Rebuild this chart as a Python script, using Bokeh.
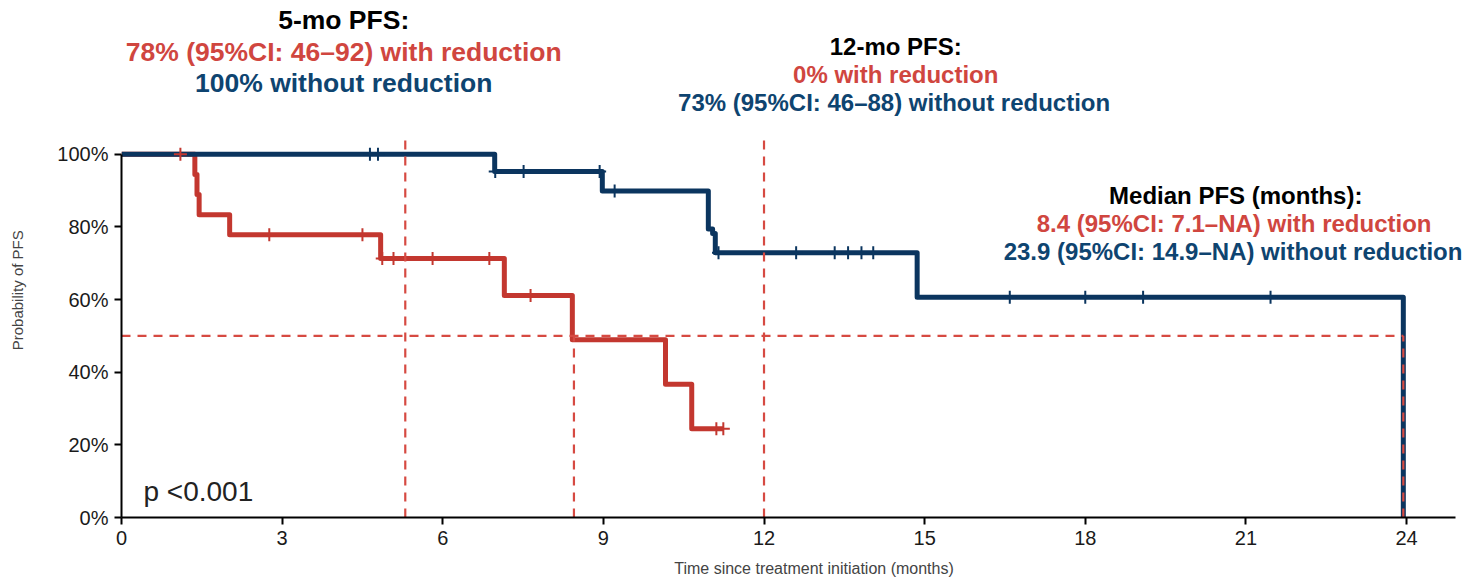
import math
from bokeh.plotting import figure
from bokeh.models import Label, FixedTicker, PrintfTickFormatter, Range1d
from bokeh.embed import file_html
from bokeh.resources import INLINE

# ---- data ----
red_times = [0, 1.37, 1.41, 1.45, 2.02, 4.84, 7.15, 8.42, 10.16, 10.65, 11.24]
red_surv = [100, 94.4, 88.9, 83.3, 77.8, 71.3, 61.1, 48.9, 36.7, 24.4, 24.4]
red_censor = [1.10, 2.76, 4.50, 4.87, 5.08, 5.81, 6.87, 7.64, 11.11, 11.24]

blue_times = [0, 6.97, 8.98, 10.96, 11.04, 11.09, 14.86, 23.94]
blue_surv = [100, 95.2, 89.9, 79.4, 78.2, 72.9, 60.6, 0]
blue_censor = [4.64, 4.79, 6.98, 7.51, 8.93, 9.21, 11.15, 12.60, 13.32, 13.57,
               13.82, 14.04, 16.59, 18.00, 19.08, 21.46]

landmark_5mo = 5.3
landmark_12mo = 12.0
median_red = 8.45
median_blue = 23.94
median_level = 50

x_ticks = [0, 3, 6, 9, 12, 15, 18, 21, 24]
y_ticks = [0, 20, 40, 60, 80, 100]

RED = "#c3372f"
RED_TXT = "#d0463f"
RED_DASH = "#d64a42"
BLUE = "#0b355f"
BLUE_TXT = "#0e4470"
FONT = "Liberation Sans"
NB = "\u00a0"


def surv_at(times, surv, t):
    s = surv[0]
    for ti, si in zip(times, surv):
        if ti <= t:
            s = si
    return s


p = figure(width=1466, height=579, x_range=Range1d(0, 25.12), y_range=Range1d(0, 142.3),
           output_backend="svg", toolbar_location=None,
           min_border_left=121, min_border_right=0, min_border_top=0, min_border_bottom=61)
p.outline_line_color = None
p.grid.visible = False
p.background_fill_color = "white"

# curves
p.step(red_times, red_surv, mode="after", line_color=RED, line_width=5, line_join="round")
p.step(blue_times, blue_surv, mode="after", line_color=BLUE, line_width=5, line_join="round")

# censor marks
p.scatter(red_censor, [surv_at(red_times, red_surv, t) for t in red_censor], marker="cross",
          size=13, line_color=RED, line_width=2)
p.scatter(blue_censor, [surv_at(blue_times, blue_surv, t) for t in blue_censor], marker="cross",
          size=13, line_color=BLUE, line_width=2)

# reference dashed lines
dash = dict(line_color=RED_DASH, line_width=2.2, line_dash="9 7")
p.line([landmark_5mo, landmark_5mo], [0, 104.7], **dash)
p.line([landmark_12mo, landmark_12mo], [0, 104.7], **dash)
p.line([0, median_blue], [median_level, median_level], **dash)
p.line([median_red, median_red], [0, median_level], **dash)
p.line([median_blue, median_blue], [0, median_level], **dash)

# axes
for ax in (p.xaxis[0], p.yaxis[0]):
    ax.axis_line_width = 2
    ax.axis_line_color = "black"
    ax.major_tick_line_width = 2
    ax.major_tick_line_color = "black"
    ax.major_tick_out = 7
    ax.major_tick_in = 0
    ax.minor_tick_line_color = None
    ax.major_label_text_font = FONT
    ax.major_label_text_font_size = "20px"
    ax.major_label_text_color = "#1a1a1a"
    ax.major_label_standoff = 6
    ax.axis_label_text_font = FONT
    ax.axis_label_text_font_style = "normal"
    ax.axis_label_text_color = "#444444"
p.xaxis.ticker = FixedTicker(ticks=x_ticks)
p.yaxis.ticker = FixedTicker(ticks=y_ticks)
p.xaxis.bounds = (0, 24.92)
p.yaxis.bounds = (0, 100)
p.yaxis.formatter = PrintfTickFormatter(format="%d%%")

p.yaxis.axis_label = "Probability of PFS" + NB * 15
p.yaxis.axis_label_text_font_size = "15px"
p.yaxis.axis_label_standoff = 28
p.xaxis.axis_label = NB * 9 + "Time since treatment initiation (months)"
p.xaxis.axis_label_text_font_size = "16px"
p.xaxis.axis_label_standoff = 12


def txt(x, y, s, color, size="24px", style="bold", align="center"):
    p.add_layout(Label(x=x, y=y, text=s, text_align=align, text_baseline="middle",
                       text_font=FONT, text_font_size=size, text_font_style=style,
                       text_color=color))


txt(4.15, 136.8, "5-mo PFS:", "black", size="26.5px")
txt(4.15, 128.0, "78% (95%CI: 46\u201392) with reduction", RED_TXT, size="26.5px")
txt(4.15, 119.5, "100% without reduction", BLUE_TXT, size="26.5px")

txt(14.46, 129.7, "12-mo PFS:", "black")
txt(14.46, 122.0, "0% with reduction", RED_TXT)
txt(14.43, 114.3, "73% (95%CI: 46\u201388) without reduction", BLUE_TXT)

txt(20.81, 88.5, "Median PFS (months):", "black")
txt(20.78, 81.0, "8.4 (95%CI: 7.1\u2013NA) with reduction", RED_TXT)
txt(20.76, 73.1, "23.9 (95%CI: 14.9\u2013NA) without reduction", BLUE_TXT)

txt(0.41, 7.1, "p <0.001", "#222222", size="28px", style="normal", align="left")

open("out.html", "w").write(file_html(p, INLINE))
